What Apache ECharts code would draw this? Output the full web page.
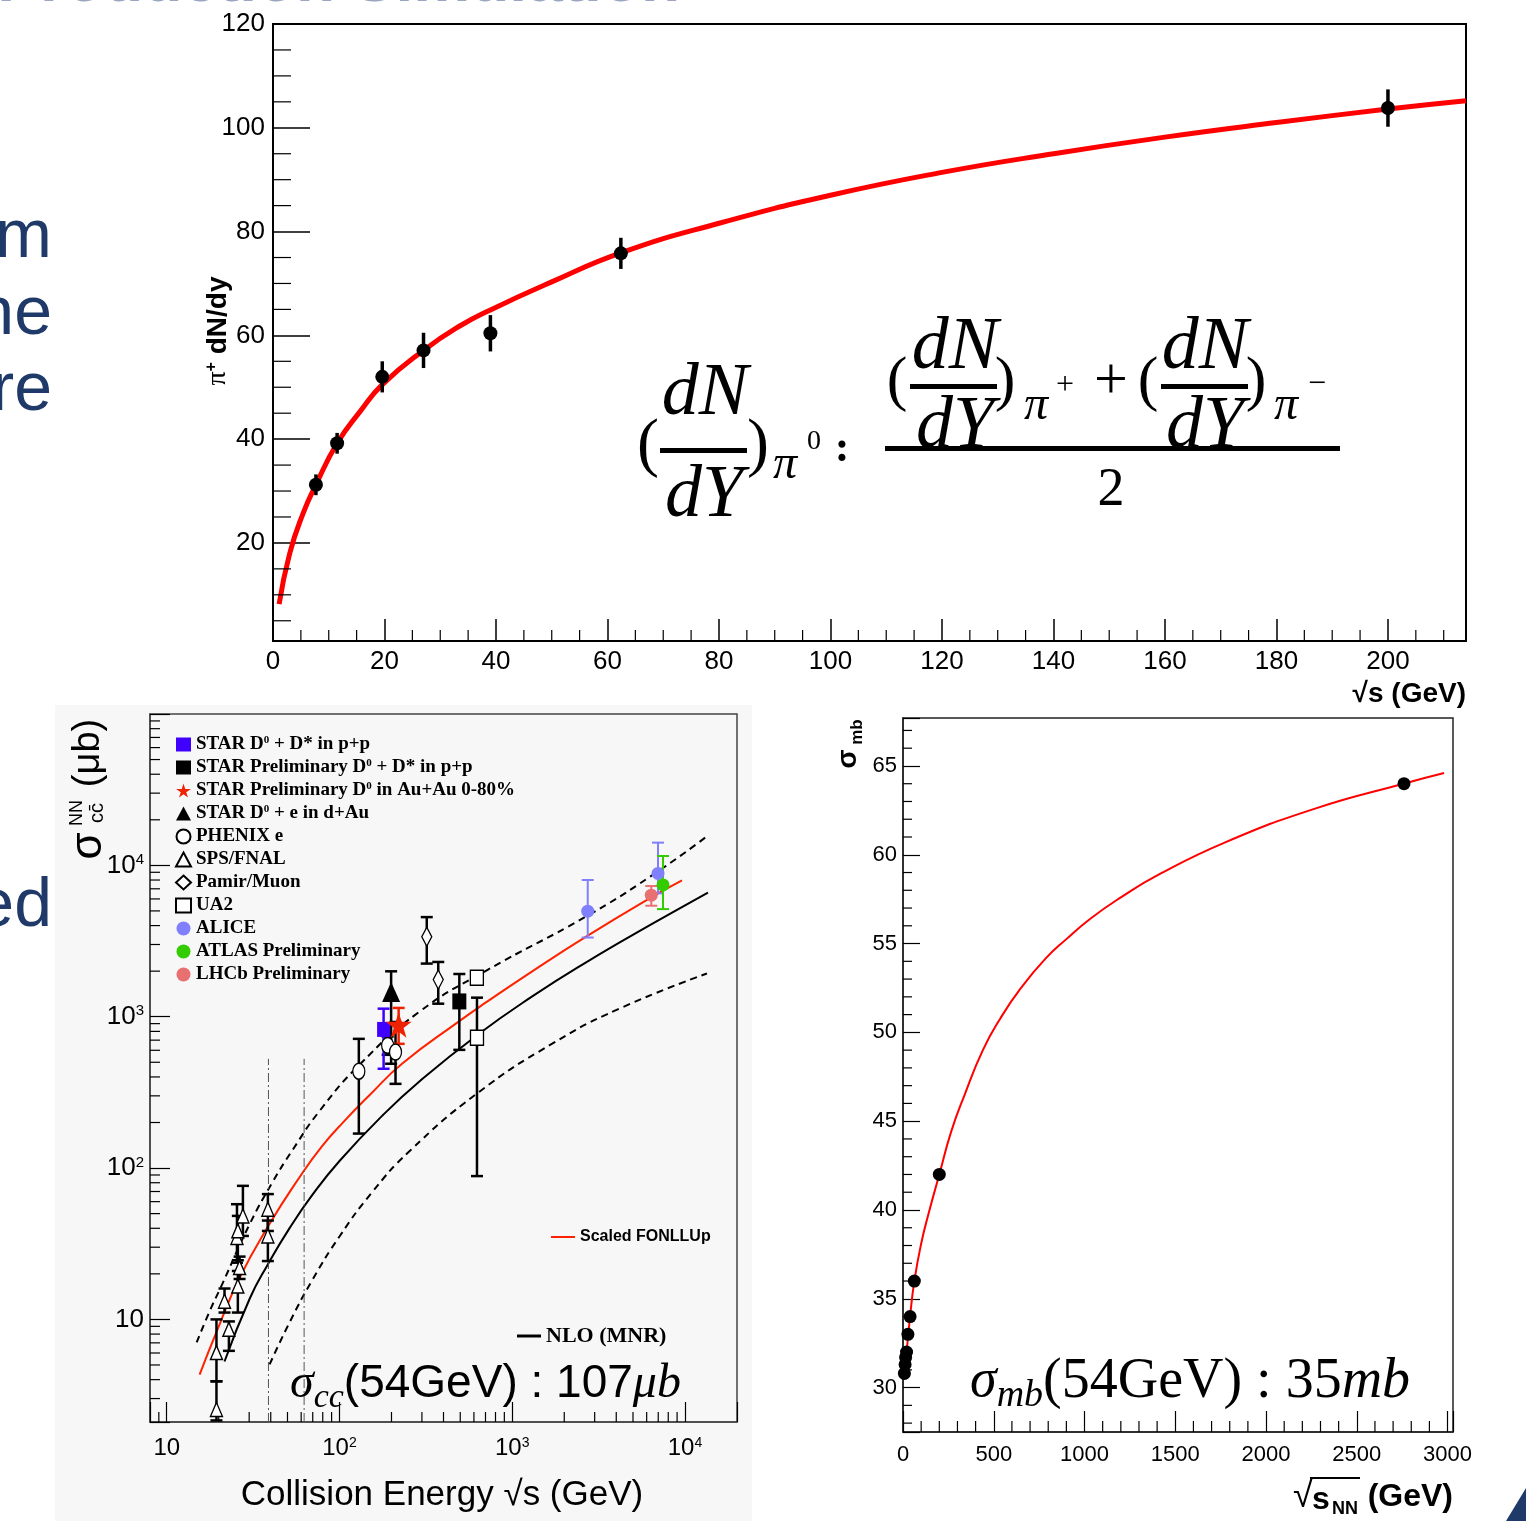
<!DOCTYPE html>
<html>
<head>
<meta charset="utf-8">
<title>charm / pion / sigma_mb</title>
<script src="https://cdn.jsdelivr.net/npm/echarts@6.0.0/dist/echarts.min.js"></script>
<style>
html,body{margin:0;padding:0;background:#fff;}
#main{width:1526px;height:1521px;}
</style>
</head>
<body>
<div id="main"></div>
<script>
// ---- top panel: pi+ dN/dy vs sqrt(s)
var pionEnergy = [7.7, 11.5, 19.6, 27, 39, 62.4, 200];
var pionYield  = [31.2, 39.2, 52.0, 57.1, 60.4, 75.8, 103.8];
var pionErr    = [2.0, 2.0, 3.0, 3.4, 3.5, 3.0, 3.6];
var pionFitX   = [1.1, 3.0, 5.4, 7.7, 11.5, 15.6, 19.6, 27, 33.5, 39, 50, 62.4, 80, 100, 120, 140, 160, 180, 200, 214];
var pionFitY   = [8.2, 18.0, 25.7, 31.2, 39.2, 45.3, 50.5, 57.1, 61.8, 64.9, 70.3, 75.9, 81.6, 87.0, 91.4, 95.0, 98.2, 101.0, 103.6, 105.2];

// ---- middle panel: charm cross section, [sqrt(s), sigma, low, high]
var starPP      = [[180, 824, 453, 1130]];
var starPrelPP  = [[494, 1262, 604, 1915]];
var starAuAu    = [[220, 885, 662, 1143]];
var starDAu     = [[199, 1459, 489, 1995]];
var phenixE     = [[129.4, 436, 169, 714], [190, 646, 560, 740], [211, 584, 360, 923]];
var spsFnal     = [[19.4, 6.04, 3.9, 10.0], [19.4, 2.54, 2.15, 3.9], [22.9, 8.6, 6.2, 9.7], [21.6, 13.2, 11.1, 16.0],
                   [25.8, 16.6, 11.1, 20.9], [26.4, 22.0, 18.5, 26.0], [25.5, 34.8, 23.7, 57.7], [25.8, 38.5, 24.6, 48.3],
                   [27.6, 48.3, 35.6, 76.3], [38.5, 53.5, 38.4, 67.3], [38.5, 35.6, 24.3, 45.0]];
var pamirMuon   = [[320, 3375, 2244, 4550], [373, 1758, 1219, 2300]];
var ua2         = [[625, 726, 88.5, 1336], [624, 1810, 1810, 1810]];
var alice       = [[2735, 4977, 3336, 8000], [6980, 8850, 6530, 14130]];
var atlas       = [[7460, 7420, 5140, 11530]];
var lhcb        = [[6380, 6350, 5410, 7300]];

var fonllX  = [15.5, 19.5, 26.4, 39.4, 58.7, 78.7, 106.9, 150, 231, 494, 708, 1305, 2677, 6447, 9610];
var fonllY  = [4.32, 8.38, 18.8, 42.8, 86.9, 138, 205, 305, 491, 935, 1247, 1995, 3381, 6184, 7956];
var nloX    = [21.6, 30.2, 38.4, 51.4, 69.8, 100, 177, 290, 628, 1305, 2677, 6447, 13580];
var nloY    = [5.27, 13.7, 23.0, 40.1, 66.7, 111.4, 222, 373, 757, 1361, 2285, 4099, 6614];
var nloHiX  = [14.9, 17.7, 20.8, 30.2, 41.0, 53.5, 76.6, 130.5, 290, 708, 2677, 6447, 13400];
var nloHiY  = [7.04, 11.3, 16.8, 42.6, 80.8, 131.6, 238, 481, 1079, 2016, 4595, 8585, 15560];
var nloLoX  = [39.4, 51.4, 69.8, 100, 153, 254, 628, 1703, 4154, 13400];
var nloLoY  = [5.04, 9.55, 18.3, 35.3, 68.3, 129, 312, 663, 1128, 1929];
var rhicLines = [38.8, 62.4];

// ---- right panel: sigma_mb vs sqrt(s_NN)
var mbEnergy = [7.7, 11.5, 14.5, 19.6, 27, 39, 62.4, 200, 2760];
var mbSigma  = [30.8, 31.3, 31.7, 32.0, 33.0, 34.0, 36.0, 42.0, 64.0];
var mbFitX   = [7.7, 19.6, 39, 62.4, 100, 141, 200, 265, 340, 440, 537, 650, 785, 900, 1032, 1200, 1403, 1775, 2270, 2757, 2981];
var mbFitY   = [30.9, 32.0, 34.0, 36.0, 38.1, 39.8, 42.0, 44.4, 46.5, 49.0, 50.8, 52.5, 54.15, 55.25, 56.4, 57.6, 58.85, 60.7, 62.6, 64.0, 64.6];

function zip(a, b) { return a.map(function (v, i) { return [v, b[i]]; }); }

function minorTicks(a, b, step, major) {
    var out = [];
    for (var v = a; v <= b + 1e-9; v += step) {
        var r = Math.round(v * 1000) / 1000;
        if (Math.abs(r / major - Math.round(r / major)) > 1e-6) out.push(r);
    }
    return out;
}
function logMinor(lo, hi) {
    var out = [];
    for (var e = 0; e < 6; e++) {
        for (var m = 2; m <= 9; m++) {
            var v = m * Math.pow(10, e);
            if (v > lo && v < hi) out.push(v);
        }
    }
    return out;
}

// short tick marks drawn inside the frame
function tickSeries(xi, yi, dir, values, anchor, len) {
    return {
        type: 'custom', xAxisIndex: xi, yAxisIndex: yi, silent: true, z: 4,
        data: values.map(function (v) { return dir === 'y' ? [anchor, v] : [v, anchor]; }),
        renderItem: function (params, api) {
            var p = api.coord([api.value(0), api.value(1)]);
            var cs = params.coordSys;
            var shape = dir === 'y'
                ? {x1: cs.x, y1: p[1], x2: cs.x + len, y2: p[1]}
                : {x1: p[0], y1: cs.y + cs.height, x2: p[0], y2: cs.y + cs.height - len};
            return {type: 'line', shape: shape, style: {stroke: '#000', lineWidth: 1.2}};
        }
    };
}

function errBars(xi, yi, rows, color, width, cap) {
    return {
        type: 'custom', xAxisIndex: xi, yAxisIndex: yi, silent: true, z: 3,
        data: rows.map(function (r) { return [r[0], r[2], r[3]]; }),
        renderItem: function (params, api) {
            var lo = api.coord([api.value(0), api.value(1)]);
            var hi = api.coord([api.value(0), api.value(2)]);
            var kids = [{type: 'line', shape: {x1: lo[0], y1: lo[1], x2: hi[0], y2: hi[1]}, style: {stroke: color, lineWidth: width}}];
            if (cap && hi[1] < lo[1] - 1) {
                kids.push({type: 'line', shape: {x1: lo[0] - cap, y1: lo[1], x2: lo[0] + cap, y2: lo[1]}, style: {stroke: color, lineWidth: width}});
                kids.push({type: 'line', shape: {x1: hi[0] - cap, y1: hi[1], x2: hi[0] + cap, y2: hi[1]}, style: {stroke: color, lineWidth: width}});
            }
            return {type: 'group', children: kids};
        }
    };
}

function logLabel(v) {
    var e = Math.log10(v), r = Math.round(e);
    if (Math.abs(e - r) > 1e-6) return '';
    return r === 1 ? '10' : '10{e|' + r + '}';
}
function stepLabel(step) {
    return function (v) { return Math.abs(v / step - Math.round(v / step)) < 1e-6 ? String(v) : ''; };
}

var SANS = 'Liberation Sans, Arial, sans-serif';
var NARROW = 'Liberation Sans Narrow, Liberation Sans, sans-serif';
var SERIF = 'Liberation Serif, Times New Roman, serif';
var STAR = 'path://M50,0 L61,35 L98,35 L68,57 L79,91 L50,70 L21,91 L32,57 L2,35 L39,35 Z';

function scatter(name, rows, symbol, size, color, border) {
    return {
        type: 'scatter', name: name, xAxisIndex: 1, yAxisIndex: 1, z: 5,
        symbol: symbol, symbolSize: size,
        data: rows.map(function (r) { return [r[0], r[1]]; }),
        itemStyle: border ? {color: '#fff', borderColor: '#000', borderWidth: 1.4, opacity: 1} : {color: color, opacity: 1}
    };
}

function curve(name, xs, ys, xi, yi, color, width, type, smooth) {
    return {
        type: 'line', name: name, xAxisIndex: xi, yAxisIndex: yi, data: zip(xs, ys),
        symbol: 'none', showSymbol: false, smooth: smooth, z: 2, silent: true,
        lineStyle: {color: color, width: width, type: type || 'solid'},
        itemStyle: {color: color}
    };
}

var series = [
    // top
    curve('pionFit', pionFitX, pionFitY, 0, 0, '#ff0000', 5, 'solid', 0.5),
    errBars(0, 0, pionEnergy.map(function (x, i) { return [x, pionYield[i], pionYield[i] - pionErr[i], pionYield[i] + pionErr[i]]; }), '#000', 3.5, 0),
    {type: 'scatter', xAxisIndex: 0, yAxisIndex: 0, z: 5, symbol: 'circle', symbolSize: 14,
        data: zip(pionEnergy, pionYield), itemStyle: {color: '#000', opacity: 1}},
    tickSeries(0, 0, 'y', minorTicks(5, 115, 5, 20), 100, 18),
    tickSeries(0, 0, 'x', minorTicks(5, 210, 5, 20), 50, 11),

    // middle
    curve('upper', nloHiX, nloHiY, 1, 1, '#000', 2, [7, 5], 0.5),
    curve('lower', nloLoX, nloLoY, 1, 1, '#000', 2, [7, 5], 0.5),
    curve('NLO (MNR)', nloX, nloY, 1, 1, '#000', 2, 'solid', 0.5),
    curve('Scaled FONLLUp', fonllX, fonllY, 1, 1, '#ff2200', 2, 'solid', 0.5)
];
rhicLines.forEach(function (x) {
    series.push(curve('rhic' + x, [x, x], [2.1, 527], 1, 1, '#555', 1, [9, 3, 2, 3], false));
});
series.push(
    errBars(1, 1, spsFnal, '#000', 2.5, 6),
    errBars(1, 1, phenixE, '#000', 2.5, 6),
    errBars(1, 1, pamirMuon, '#000', 2.5, 6),
    errBars(1, 1, ua2, '#000', 2.5, 6),
    errBars(1, 1, starPrelPP, '#000', 2.5, 6),
    errBars(1, 1, starDAu, '#000', 2.5, 6),
    errBars(1, 1, starPP, '#4000ff', 2.5, 6),
    errBars(1, 1, starAuAu, '#ee2200', 2.5, 6),
    errBars(1, 1, alice, '#8080ff', 2, 6),
    errBars(1, 1, atlas, '#33cc00', 2, 6),
    errBars(1, 1, lhcb, '#e87070', 2, 6),
    scatter('SPS/FNAL', spsFnal, 'triangle', [12, 14], null, true),
    scatter('PHENIX e', phenixE, 'circle', [12, 16], null, true),
    scatter('Pamir/Muon', pamirMuon, 'diamond', [10, 19], null, true),
    scatter('UA2', ua2, 'rect', [13, 15], null, true),
    scatter('STAR Preliminary D0 + D* in p+p', starPrelPP, 'rect', [14, 16], '#000'),
    scatter('STAR D0 + e in d+Au', starDAu, 'triangle', [18, 20], '#000'),
    scatter('STAR D0 + D* in p+p', starPP, 'rect', [13, 15], '#4000ff'),
    scatter('STAR Preliminary D0 in Au+Au 0-80%', starAuAu, STAR, 26, '#ee2200'),
    scatter('ALICE', alice, 'circle', 13, '#8080ff'),
    scatter('ATLAS Preliminary', atlas, 'circle', 13, '#33cc00'),
    scatter('LHCb Preliminary', lhcb, 'circle', 13, '#e87070'),
    tickSeries(1, 1, 'y', logMinor(2.1, 1e5), 100, 10),
    tickSeries(1, 1, 'x', logMinor(8, 20000), 100, 10)
);
series.push(
    curve('mbFit', mbFitX, mbFitY, 2, 2, '#ff0000', 2, 'solid', 0.5),
    {type: 'scatter', xAxisIndex: 2, yAxisIndex: 2, z: 5, symbol: 'circle', symbolSize: 13,
        data: zip(mbEnergy, mbSigma), itemStyle: {color: '#000', opacity: 1}},
    tickSeries(2, 2, 'y', minorTicks(28, 67, 1, 5), 1000, 9),
    tickSeries(2, 2, 'x', minorTicks(100, 3000, 100, 500), 40, 11)
);

var legendNames = ['STAR D0 + D* in p+p', 'STAR Preliminary D0 + D* in p+p', 'STAR Preliminary D0 in Au+Au 0-80%',
    'STAR D0 + e in d+Au', 'PHENIX e', 'SPS/FNAL', 'Pamir/Muon', 'UA2', 'ALICE', 'ATLAS Preliminary', 'LHCb Preliminary'];

function linAxis(gi, o) {
    return Object.assign({
        type: 'value', gridIndex: gi, scale: true,
        axisLine: {show: true, lineStyle: {color: '#000', width: 2}},
        axisTick: {show: true, inside: true, lineStyle: {color: '#000', width: 1.3}},
        splitLine: {show: false}
    }, o);
}

var txt = function (x, y, text, font, extra) {
    return Object.assign({type: 'text', x: x, y: y, silent: true,
        style: Object.assign({text: text, font: font, fill: '#000', align: 'center', verticalAlign: 'middle'}, extra || {})});
};

var NAVY = '#1f3a68';
var graphics = [
    {type: 'rect', z: -100, silent: true, shape: {x: 55, y: 705, width: 697, height: 816}, style: {fill: '#f7f7f7'}},
    // cut-off slide text
    txt(680, 15, 'Heavy Quark Production Simulation', 'bold 64px ' + SANS, {fill: '#9aa6c0', align: 'right', verticalAlign: 'bottom'}),
    txt(52, 238, 'm', '68px ' + SANS, {fill: NAVY, align: 'right'}),
    txt(52, 315, 'ne', '68px ' + SANS, {fill: NAVY, align: 'right'}),
    txt(52, 391, 're', '68px ' + SANS, {fill: NAVY, align: 'right'}),
    txt(52, 907, 'ed', '68px ' + SANS, {fill: NAVY, align: 'right'}),
    {type: 'polygon', silent: true, shape: {points: [[1526, 1488], [1526, 1521], [1506, 1521]]}, style: {fill: NAVY}},
    // top axis titles
    txt(1466, 694, '√s (GeV)', 'bold 28px ' + SANS, {align: 'right'}),
    {type: 'text', x: 218, y: 331, rotation: Math.PI / 2, silent: true,
        style: {text: '{p|π}{s|+} dN/dy', font: 'bold 28px ' + SANS, fill: '#000', align: 'center', verticalAlign: 'middle',
            rich: {p: {font: '28px ' + SERIF}, s: {font: 'bold 16px ' + SANS, verticalAlign: 'top'}}}},
    // formula
    txt(648, 447, '(', '66px ' + SERIF),
    txt(705, 395, 'dN', 'italic 74px ' + SERIF),
    {type: 'rect', silent: true, shape: {x: 660, y: 448, width: 87, height: 5}, style: {fill: '#000'}},
    txt(704, 497, 'dY', 'italic 74px ' + SERIF),
    txt(758, 447, ')', '66px ' + SERIF),
    txt(785, 465, 'π', 'italic 48px ' + SERIF),
    txt(814, 442, '0', '28px ' + SERIF),
    txt(842, 450, ':', 'bold 44px ' + SERIF),
    txt(897, 383, '(', '62px ' + SERIF),
    txt(955, 349, 'dN', 'italic 74px ' + SERIF),
    {type: 'rect', silent: true, shape: {x: 910, y: 384, width: 87, height: 5}, style: {fill: '#000'}},
    txt(955, 428, 'dY', 'italic 74px ' + SERIF),
    txt(1005, 383, ')', '62px ' + SERIF),
    txt(1036, 406, 'π', 'italic 48px ' + SERIF),
    txt(1065, 386, '+', '32px ' + SERIF),
    txt(1111, 382, '+', '60px ' + SERIF),
    txt(1148, 383, '(', '62px ' + SERIF),
    txt(1205, 349, 'dN', 'italic 74px ' + SERIF),
    {type: 'rect', silent: true, shape: {x: 1161, y: 384, width: 87, height: 5}, style: {fill: '#000'}},
    txt(1205, 428, 'dY', 'italic 74px ' + SERIF),
    txt(1256, 383, ')', '62px ' + SERIF),
    txt(1286, 406, 'π', 'italic 48px ' + SERIF),
    txt(1317, 385, '−', '32px ' + SERIF),
    {type: 'rect', silent: true, shape: {x: 885, y: 446, width: 455, height: 5}, style: {fill: '#000'}},
    txt(1111, 491, '2', '54px ' + SERIF),
    // middle titles
    txt(442, 1495, 'Collision Energy √s (GeV)', '35px ' + NARROW),
    {type: 'group', x: 89, y: 846, rotation: Math.PI / 2, silent: true, children: [
        txt(0, 0, 'σ', '44px ' + SANS),
        txt(33, -12, 'NN', '18px ' + SANS),
        txt(33, 8, 'cc̄', '20px ' + SANS),
        txt(93, 0, '(μb)', '38px ' + SANS)
    ]},
    {type: 'text', x: 290, y: 1384, silent: true, style: {
        text: '{s|σ}{b|cc}{n|(54GeV) : 107}{i|μb}', align: 'left', verticalAlign: 'middle', fill: '#000',
        rich: {s: {font: 'italic 48px ' + SERIF}, b: {font: 'italic 34px ' + SERIF, verticalAlign: 'bottom', lineHeight: 62},
            n: {font: '46px ' + SANS}, i: {font: 'italic 48px ' + SERIF}}}},
    // right titles
    {type: 'group', x: 848, y: 759, rotation: Math.PI / 2, silent: true, children: [
        txt(0, 0, 'σ', 'bold 28px ' + SANS),
        txt(27, 9, 'mb', 'bold 17px ' + SANS)
    ]},
    txt(1303, 1497, '√', '36px ' + SANS),
    {type: 'rect', silent: true, shape: {x: 1310, y: 1477, width: 50, height: 2}, style: {fill: '#000'}},
    txt(1321, 1500, 's', 'bold 32px ' + SANS),
    txt(1345, 1509, 'NN', 'bold 18px ' + SANS),
    txt(1453, 1497, '(GeV)', 'bold 32px ' + SANS, {align: 'right'}),
    {type: 'text', x: 970, y: 1382, silent: true, style: {
        text: '{s|σ}{b|mb}{n|(54GeV) : 35}{i|mb}', align: 'left', verticalAlign: 'middle', fill: '#000',
        rich: {s: {font: 'italic 54px ' + SERIF}, b: {font: 'italic 38px ' + SERIF, verticalAlign: 'bottom', lineHeight: 66},
            n: {font: '56px ' + SERIF}, i: {font: 'italic 56px ' + SERIF}}}}
];

var option = {
    backgroundColor: '#fff',
    animation: false,
    grid: [
        {left: 273, top: 24, width: 1193, height: 617, show: true, borderColor: '#000', borderWidth: 2},
        {left: 150, top: 714, width: 587, height: 708, show: true, borderColor: '#444', borderWidth: 1.5},
        {left: 903, top: 718, width: 550, height: 714, show: true, borderColor: '#222', borderWidth: 1.5}
    ],
    xAxis: [
        linAxis(0, {min: 0, max: 214, interval: 20, axisTick: {show: true, inside: true, length: 22, lineStyle: {color: '#000', width: 1.5}},
            axisLabel: {formatter: stepLabel(20), fontFamily: SANS, fontSize: 26, color: '#000', margin: 8}}),
        {type: 'log', gridIndex: 1, min: 8, max: 20000, logBase: 10,
            axisLine: {show: true, lineStyle: {color: '#444', width: 1.5}},
            axisTick: {show: true, inside: true, length: 20, lineStyle: {color: '#000', width: 1.2}},
            splitLine: {show: false},
            axisLabel: {formatter: logLabel, fontFamily: NARROW, fontSize: 24, color: '#000', margin: 14,
                rich: {e: {fontFamily: NARROW, fontSize: 14, verticalAlign: 'top'}}}},
        linAxis(2, {min: 0, max: 3030, interval: 500, axisLine: {show: true, lineStyle: {color: '#222', width: 1.5}},
            axisTick: {show: true, inside: true, length: 21, lineStyle: {color: '#000', width: 1.2}},
            axisLabel: {formatter: stepLabel(500), fontFamily: SANS, fontSize: 22, color: '#000', margin: 12}})
    ],
    yAxis: [
        linAxis(0, {min: 1.1, max: 120, splitNumber: 6, axisTick: {show: true, inside: true, length: 37, lineStyle: {color: '#000', width: 1.5}},
            axisLabel: {formatter: stepLabel(20), fontFamily: SANS, fontSize: 26, color: '#000', margin: 8}}),
        {type: 'log', gridIndex: 1, min: 2.1, max: 100000, logBase: 10,
            axisLine: {show: true, lineStyle: {color: '#444', width: 1.5}},
            axisTick: {show: true, inside: true, length: 20, lineStyle: {color: '#000', width: 1.2}},
            splitLine: {show: false},
            axisLabel: {formatter: function (v) { return v >= 99999 ? '' : logLabel(v); }, fontFamily: NARROW, fontSize: 26, color: '#000', margin: 6,
                rich: {e: {fontFamily: NARROW, fontSize: 15, verticalAlign: 'top'}}}},
        linAxis(2, {min: 27.5, max: 67.7, splitNumber: 8, axisLine: {show: true, lineStyle: {color: '#222', width: 1.5}},
            axisTick: {show: true, inside: true, length: 17, lineStyle: {color: '#000', width: 1.2}},
            axisLabel: {formatter: stepLabel(5), fontFamily: SANS, fontSize: 22, color: '#000', margin: 6}})
    ],
    legend: [
        {data: legendNames, orient: 'vertical', left: 170, top: 730, itemGap: 4, itemWidth: 15, itemHeight: 14,
            selectedMode: false,
            formatter: function (n) { return n.replace(/D0/g, 'D{sup|0}'); },
            textStyle: {fontFamily: SERIF, fontWeight: 'bold', fontSize: 19, lineHeight: 19, color: '#000',
                rich: {sup: {fontFamily: SERIF, fontWeight: 'bold', fontSize: 11, verticalAlign: 'top'}}}},
        {data: ['Scaled FONLLUp'], left: 546, top: 1224, icon: 'rect', itemWidth: 24, itemHeight: 2, selectedMode: false,
            textStyle: {fontFamily: NARROW, fontWeight: 'bold', fontSize: 16, color: '#000'}},
        {data: ['NLO (MNR)'], left: 512, top: 1320, icon: 'rect', itemWidth: 24, itemHeight: 3, itemGap: 6, selectedMode: false,
            textStyle: {fontFamily: SERIF, fontWeight: 'bold', fontSize: 22, color: '#000'}}
    ],
    graphic: graphics,
    series: series
};

var chart = echarts.init(document.getElementById('main'));
chart.setOption(option);
</script>
</body>
</html>
